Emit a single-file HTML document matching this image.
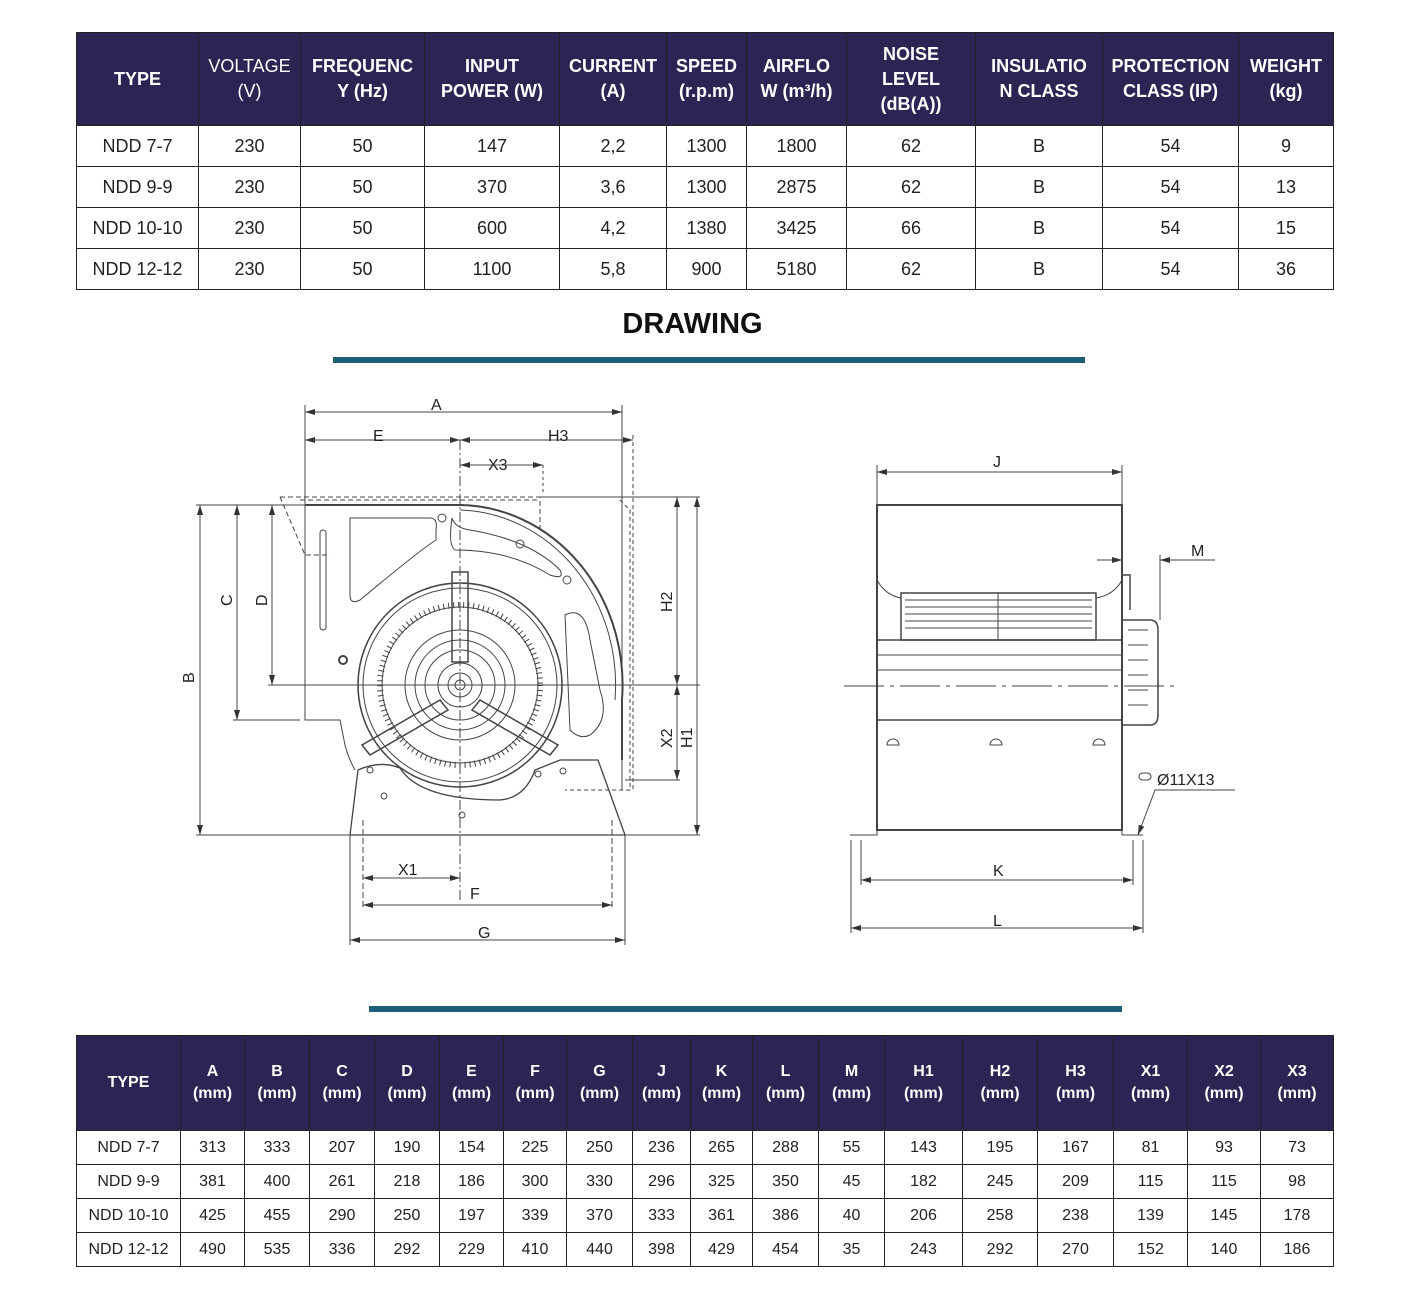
<!DOCTYPE html>
<html><head><meta charset="utf-8"><style>
body{margin:0;width:1414px;height:1309px;background:#fff;position:relative;font-family:"Liberation Sans",Arial,sans-serif;overflow:hidden}
table{position:absolute;border-collapse:collapse;table-layout:fixed;left:76px}
td,th{border:1.5px solid #222;text-align:center;padding:0;color:#222}
th{background:#2b2554;color:#fff;font-weight:bold;border-color:#222}
#t1{top:32px;width:1257px}
#t1 th{height:92px;font-size:18px;line-height:25px}
#t1 td{height:40px;font-size:18px}
#t2{top:1035px;width:1257px}
#t2 th{height:94px;font-size:16px;line-height:22px}
#t2 td{height:33px;font-size:16px}
.bar{position:absolute;background:#1d5f78;height:6px}
#title{position:absolute;top:308px;left:0;width:1385px;text-align:center;font-weight:bold;font-size:29px;color:#111}
svg{position:absolute;left:0;top:0}
svg text{font-family:"Liberation Sans",sans-serif;font-size:16px;fill:#222}
</style></head><body>
<table id="t1">
<colgroup><col style="width:122px"><col style="width:102px"><col style="width:124px"><col style="width:135px"><col style="width:107px"><col style="width:80px"><col style="width:100px"><col style="width:129px"><col style="width:127px"><col style="width:136px"><col style="width:95px"></colgroup>
<tr><th>TYPE</th><th style="font-weight:normal">VOLTAGE<br>(V)</th><th>FREQUENC<br>Y (Hz)</th><th>INPUT<br>POWER (W)</th><th>CURRENT<br>(A)</th><th>SPEED<br>(r.p.m)</th><th>AIRFLO<br>W (m³/h)</th><th>NOISE<br>LEVEL<br>(dB(A))</th><th>INSULATIO<br>N CLASS</th><th>PROTECTION<br>CLASS (IP)</th><th>WEIGHT<br>(kg)</th></tr>
<tr><td>NDD 7-7</td><td>230</td><td>50</td><td>147</td><td>2,2</td><td>1300</td><td>1800</td><td>62</td><td>B</td><td>54</td><td>9</td></tr>
<tr><td>NDD 9-9</td><td>230</td><td>50</td><td>370</td><td>3,6</td><td>1300</td><td>2875</td><td>62</td><td>B</td><td>54</td><td>13</td></tr>
<tr><td>NDD 10-10</td><td>230</td><td>50</td><td>600</td><td>4,2</td><td>1380</td><td>3425</td><td>66</td><td>B</td><td>54</td><td>15</td></tr>
<tr><td>NDD 12-12</td><td>230</td><td>50</td><td>1100</td><td>5,8</td><td>900</td><td>5180</td><td>62</td><td>B</td><td>54</td><td>36</td></tr>
</table>
<div id="title">DRAWING</div>
<div class="bar" style="left:333px;top:357px;width:752px"></div>
<div class="bar" style="left:369px;top:1006px;width:753px"></div>

<svg width="1414" height="1309" viewBox="0 0 1414 1309">
<defs><marker id="a" markerWidth="10" markerHeight="6" refX="10" refY="3" orient="auto-start-reverse"><path d="M0,0 L10,3 L0,6 z" fill="#333"/></marker></defs>
<g stroke="#444" stroke-width="1" fill="none">
<!-- left dims -->
<line x1="305" y1="412" x2="622" y2="412" marker-start="url(#a)" marker-end="url(#a)"/>
<line x1="305" y1="440" x2="460" y2="440" marker-start="url(#a)" marker-end="url(#a)"/>
<line x1="460" y1="440" x2="633" y2="440" marker-start="url(#a)" marker-end="url(#a)"/>
<line x1="460" y1="465" x2="543" y2="465" marker-start="url(#a)" marker-end="url(#a)"/>
<line x1="305" y1="405" x2="305" y2="720"/><line x1="622" y1="405" x2="622" y2="790"/><line x1="633" y1="435" x2="633" y2="790" stroke-dasharray="4,3"/>
<line x1="460" y1="440" x2="460" y2="900" stroke-dasharray="10,3,2,3"/>
<line x1="543" y1="465" x2="543" y2="495" stroke-dasharray="3,3"/>
<line x1="200" y1="505" x2="200" y2="835" marker-start="url(#a)" marker-end="url(#a)"/>
<line x1="237" y1="505" x2="237" y2="720" marker-start="url(#a)" marker-end="url(#a)"/>
<line x1="272" y1="505" x2="272" y2="685" marker-start="url(#a)" marker-end="url(#a)"/>
<line x1="196" y1="505" x2="310" y2="505"/><line x1="233" y1="720" x2="300" y2="720"/>
<line x1="268" y1="685" x2="700" y2="685"/>
<line x1="196" y1="835" x2="700" y2="835"/>
<line x1="677" y1="497" x2="677" y2="685" marker-start="url(#a)" marker-end="url(#a)"/>
<line x1="677" y1="685" x2="677" y2="780" marker-start="url(#a)" marker-end="url(#a)"/>
<line x1="697" y1="497" x2="697" y2="835" marker-start="url(#a)" marker-end="url(#a)"/>
<line x1="540" y1="497" x2="700" y2="497"/><line x1="625" y1="780" x2="680" y2="780"/>
<line x1="363" y1="878" x2="460" y2="878" marker-start="url(#a)" marker-end="url(#a)"/>
<line x1="363" y1="905" x2="612" y2="905" marker-start="url(#a)" marker-end="url(#a)"/>
<line x1="350" y1="940" x2="625" y2="940" marker-start="url(#a)" marker-end="url(#a)"/>
<line x1="363" y1="820" x2="363" y2="910" stroke-dasharray="6,3"/><line x1="612" y1="820" x2="612" y2="910" stroke-dasharray="6,3"/>
<line x1="350" y1="835" x2="350" y2="945"/><line x1="625" y1="835" x2="625" y2="945"/>
<!-- housing -->
<path d="M280,497 L540,497 L540,530 M300,500 L540,500" stroke-dasharray="5,3"/>
<path d="M280,497 L305,555 L330,555" stroke-dasharray="5,3"/>
<path d="M305,505 L460,505 A165,180 0 0 1 622,700 L622,760" stroke-width="2"/>
<path d="M305,505 L305,720 L340,720 L345,745 A105,105 0 0 0 355,770"/>
<path d="M460,510 A160,175 0 0 1 615,700" />
<rect x="320" y="530" width="6" height="100" rx="3"/>
<path d="M350,518 L430,518 Q438,518 436,530 L436,540 Q420,550 360,600 Q350,605 350,595 Z"/>
<path d="M452,518 Q455,528 470,530 Q530,540 560,570 Q565,580 550,575 Q510,550 455,550 Q448,545 452,518"/>
<path d="M565,615 Q585,605 590,640 L600,690 Q610,720 590,735 Q580,740 570,730 Z"/>
<circle cx="460" cy="685" r="102" stroke-width="1.5"/>
<circle cx="460" cy="685" r="97"/>
<circle cx="460" cy="685" r="80" stroke-dasharray="1,4" stroke-width="6"/>
<circle cx="460" cy="685" r="78"/>
<circle cx="460" cy="685" r="55"/><circle cx="460" cy="685" r="45"/><circle cx="460" cy="685" r="35"/>
<circle cx="460" cy="685" r="22"/><circle cx="460" cy="685" r="12"/><circle cx="460" cy="685" r="5"/>
<rect x="452" y="572" width="16" height="90" stroke-width="1.5"/>
<path d="M440,700 L362,745 L370,755 L448,710 Z" stroke-width="1.5"/>
<path d="M480,700 L558,745 L550,755 L472,710 Z" stroke-width="1.5"/>
<path d="M350,835 L358,770 Q380,760 400,768 Q420,800 500,800 Q525,798 535,770 L560,760 L598,760 L625,835 Z" stroke-width="1.3"/>
<circle cx="442" cy="518" r="4"/><circle cx="520" cy="544" r="4"/><circle cx="567" cy="580" r="4"/><circle cx="343" cy="660" r="4" stroke-width="2"/>
<circle cx="370" cy="770" r="3"/><circle cx="384" cy="796" r="3"/><circle cx="538" cy="774" r="3"/><circle cx="563" cy="771" r="3"/><circle cx="462" cy="815" r="3"/>
<path d="M620,500 L630,510 L630,790 L565,790" stroke-dasharray="4,3"/>
<!-- right view -->
<line x1="877" y1="472" x2="1122" y2="472" marker-start="url(#a)" marker-end="url(#a)"/>
<line x1="877" y1="465" x2="877" y2="505"/><line x1="1122" y1="465" x2="1122" y2="505"/>
<rect x="877" y="505" width="245" height="325" stroke-width="2"/>
<line x1="877" y1="640" x2="1122" y2="640" stroke-width="1.5"/><line x1="877" y1="720" x2="1122" y2="720" stroke-width="1.5"/>
<line x1="877" y1="655" x2="1122" y2="655"/><line x1="877" y1="670" x2="1122" y2="670"/>
<rect x="901" y="593" width="195" height="47" stroke-width="1.5"/>
<line x1="998" y1="593" x2="998" y2="640"/>
<path d="M905,600 H1092 M905,607 H1092 M905,614 H1092 M905,621 H1092 M905,628 H1092"/>
<path d="M877,580 Q885,595 901,598 M1122,580 Q1114,595 1096,598"/>
<path d="M1122,575 L1130,575 L1130,610 M1122,620 L1150,620 Q1158,620 1158,630 L1158,715 Q1158,725 1150,725 L1122,725" stroke-width="1.5"/>
<path d="M1128,630 H1148 M1128,645 H1148 M1128,660 H1148 M1128,675 H1148 M1128,690 H1148 M1128,705 H1148"/>
<line x1="844" y1="686" x2="1180" y2="686" stroke-dasharray="40,6,4,6"/>
<path d="M887,745 a6,6 0 0 1 12,0 z M990,745 a6,6 0 0 1 12,0 z M1093,745 a6,6 0 0 1 12,0 z"/>
<path d="M877,820 V835 H850 M1122,820 V835 H1143"/>
<line x1="1097" y1="560" x2="1122" y2="560" marker-end="url(#a)"/>
<line x1="1160" y1="560" x2="1215" y2="560" marker-start="url(#a)"/>
<line x1="1160" y1="555" x2="1160" y2="620"/>
<path d="M1235,790 L1155,790 L1138,835" marker-end="url(#a)"/>
<line x1="861" y1="880" x2="1133" y2="880" marker-start="url(#a)" marker-end="url(#a)"/>
<line x1="851" y1="928" x2="1143" y2="928" marker-start="url(#a)" marker-end="url(#a)"/>
<line x1="861" y1="840" x2="861" y2="885"/><line x1="1133" y1="840" x2="1133" y2="885"/>
<line x1="851" y1="840" x2="851" y2="933"/><line x1="1143" y1="840" x2="1143" y2="933"/>
<rect x="1139" y="773" width="12" height="7" rx="3.5"/>
</g>
<text x="431" y="410">A</text><text x="373" y="441">E</text><text x="548" y="441">H3</text><text x="488" y="470">X3</text>
<text x="398" y="875">X1</text><text x="470" y="899">F</text><text x="478" y="938">G</text>
<text transform="translate(194,683) rotate(-90)">B</text>
<text transform="translate(232,606) rotate(-90)">C</text>
<text transform="translate(267,606) rotate(-90)">D</text>
<text transform="translate(672,612) rotate(-90)">H2</text>
<text transform="translate(672,748) rotate(-90)">X2</text>
<text transform="translate(692,748) rotate(-90)">H1</text>
<text x="993" y="467">J</text><text x="1191" y="556">M</text><text x="1157" y="785">Ø11X13</text>
<text x="993" y="876">K</text><text x="993" y="926">L</text>
</svg>

<table id="t2">
<colgroup><col style="width:104px"><col style="width:64px"><col style="width:65px"><col style="width:65px"><col style="width:65px"><col style="width:64px"><col style="width:63px"><col style="width:66px"><col style="width:58px"><col style="width:62px"><col style="width:66px"><col style="width:66px"><col style="width:78px"><col style="width:75px"><col style="width:76px"><col style="width:74px"><col style="width:73px"><col style="width:73px"></colgroup>
<tr><th>TYPE</th><th>A<br>(mm)</th><th>B<br>(mm)</th><th>C<br>(mm)</th><th>D<br>(mm)</th><th>E<br>(mm)</th><th>F<br>(mm)</th><th>G<br>(mm)</th><th>J<br>(mm)</th><th>K<br>(mm)</th><th>L<br>(mm)</th><th>M<br>(mm)</th><th>H1<br>(mm)</th><th>H2<br>(mm)</th><th>H3<br>(mm)</th><th>X1<br>(mm)</th><th>X2<br>(mm)</th><th>X3<br>(mm)</th></tr>
<tr><td>NDD 7-7</td><td>313</td><td>333</td><td>207</td><td>190</td><td>154</td><td>225</td><td>250</td><td>236</td><td>265</td><td>288</td><td>55</td><td>143</td><td>195</td><td>167</td><td>81</td><td>93</td><td>73</td></tr>
<tr><td>NDD 9-9</td><td>381</td><td>400</td><td>261</td><td>218</td><td>186</td><td>300</td><td>330</td><td>296</td><td>325</td><td>350</td><td>45</td><td>182</td><td>245</td><td>209</td><td>115</td><td>115</td><td>98</td></tr>
<tr><td>NDD 10-10</td><td>425</td><td>455</td><td>290</td><td>250</td><td>197</td><td>339</td><td>370</td><td>333</td><td>361</td><td>386</td><td>40</td><td>206</td><td>258</td><td>238</td><td>139</td><td>145</td><td>178</td></tr>
<tr><td>NDD 12-12</td><td>490</td><td>535</td><td>336</td><td>292</td><td>229</td><td>410</td><td>440</td><td>398</td><td>429</td><td>454</td><td>35</td><td>243</td><td>292</td><td>270</td><td>152</td><td>140</td><td>186</td></tr>
</table>
</body></html>
